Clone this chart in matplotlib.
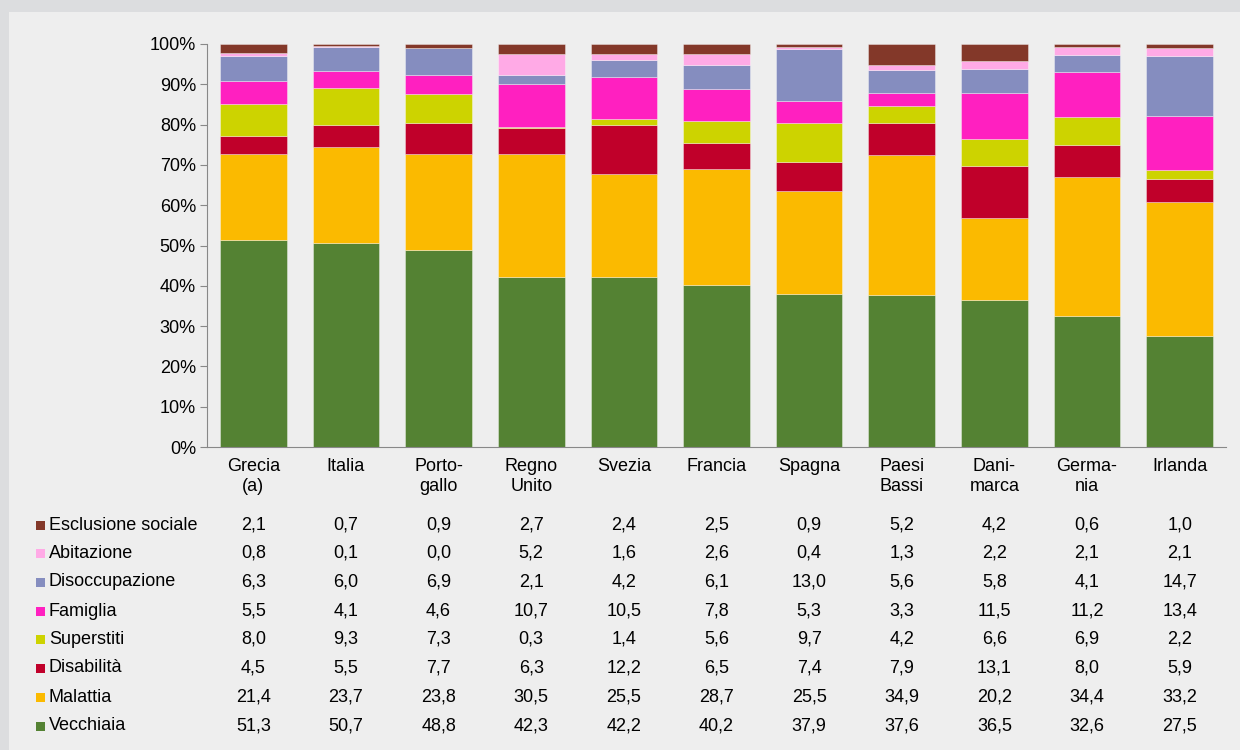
import numpy as np
import matplotlib.pyplot as plt
from matplotlib.patches import Rectangle
from matplotlib.transforms import blended_transform_factory

paesi = ['Grecia\n(a)', 'Italia', 'Porto-\ngallo', 'Regno\nUnito', 'Svezia', 'Francia',
         'Spagna', 'Paesi\nBassi', 'Dani-\nmarca', 'Germa-\nnia', 'Irlanda']

vecchiaia = [51.3, 50.7, 48.8, 42.3, 42.2, 40.2, 37.9, 37.6, 36.5, 32.6, 27.5]
malattia = [21.4, 23.7, 23.8, 30.5, 25.5, 28.7, 25.5, 34.9, 20.2, 34.4, 33.2]
disabilita = [4.5, 5.5, 7.7, 6.3, 12.2, 6.5, 7.4, 7.9, 13.1, 8.0, 5.9]
superstiti = [8.0, 9.3, 7.3, 0.3, 1.4, 5.6, 9.7, 4.2, 6.6, 6.9, 2.2]
famiglia = [5.5, 4.1, 4.6, 10.7, 10.5, 7.8, 5.3, 3.3, 11.5, 11.2, 13.4]
disoccupazione = [6.3, 6.0, 6.9, 2.1, 4.2, 6.1, 13.0, 5.6, 5.8, 4.1, 14.7]
abitazione = [0.8, 0.1, 0.0, 5.2, 1.6, 2.6, 0.4, 1.3, 2.2, 2.1, 2.1]
esclusione = [2.1, 0.7, 0.9, 2.7, 2.4, 2.5, 0.9, 5.2, 4.2, 0.6, 1.0]

# dal basso verso l'alto
serie = [
    ('Vecchiaia', vecchiaia, '#548233'),
    ('Malattia', malattia, '#fbba00'),
    ('Disabilità', disabilita, '#c0002a'),
    ('Superstiti', superstiti, '#cdd300'),
    ('Famiglia', famiglia, '#ff20c0'),
    ('Disoccupazione', disoccupazione, '#858dbf'),
    ('Abitazione', abitazione, '#ffaae6'),
    ('Esclusione sociale', esclusione, '#833829'),
]

plt.rcParams['font.family'] = ['Liberation Sans', 'DejaVu Sans']
fs = 13

fig = plt.figure(figsize=(12.4, 7.5), dpi=100, facecolor='#dcdddf')
fig.patches.append(Rectangle((9 / 1240, 0), 1, 1 - 12 / 750, transform=fig.transFigure,
                             facecolor='#eeeeee', edgecolor='none', zorder=-10))

ax = fig.add_axes([207 / 1240, 1 - 447 / 750, 1019 / 1240, 403 / 750])
ax.set_facecolor('none')

x = np.arange(len(paesi))
bottom = np.zeros(len(paesi))
for nome, vals, col in serie:
    ax.bar(x, vals, bottom=bottom, width=0.72, color=col, edgecolor=(1, 1, 1, 0.5), linewidth=0.5)
    bottom += np.array(vals)

ax.set_xlim(-0.5, len(paesi) - 0.5)
ax.set_ylim(0, 100)
ax.set_yticks(np.arange(0, 101, 10))
ax.set_yticklabels([f'{v}%' for v in range(0, 101, 10)], fontsize=fs)
ax.set_xticks(x)
ax.set_xticklabels(paesi, fontsize=fs, linespacing=1.25)
ax.tick_params(axis='x', length=0, pad=8)
ax.tick_params(axis='y', length=5, color='#888888', direction='out', pad=3)
for s in ['top', 'right']:
    ax.spines[s].set_visible(False)
ax.spines['left'].set_color('#888888')
ax.spines['bottom'].set_color('#888888')

# tabella dei valori sotto il grafico
righe_y = [726, 697, 668, 639, 611, 582, 553, 525]
trans = blended_transform_factory(ax.transData, fig.transFigure)
for (nome, vals, col), yp in zip(serie, righe_y):
    yf = 1 - yp / 750
    fig.patches.append(Rectangle((36 / 1240, yf - 4.5 / 750), 9 / 1240, 9 / 750,
                                 transform=fig.transFigure, facecolor=col, edgecolor='none'))
    fig.text(49 / 1240, yf, nome, fontsize=fs, va='center', ha='left')
    for i, v in enumerate(vals):
        ax.text(i, yf, f'{v:.1f}'.replace('.', ','), transform=trans, fontsize=fs,
                va='center', ha='center', clip_on=False)

fig.savefig('out.png', dpi=100, facecolor=fig.get_facecolor())
